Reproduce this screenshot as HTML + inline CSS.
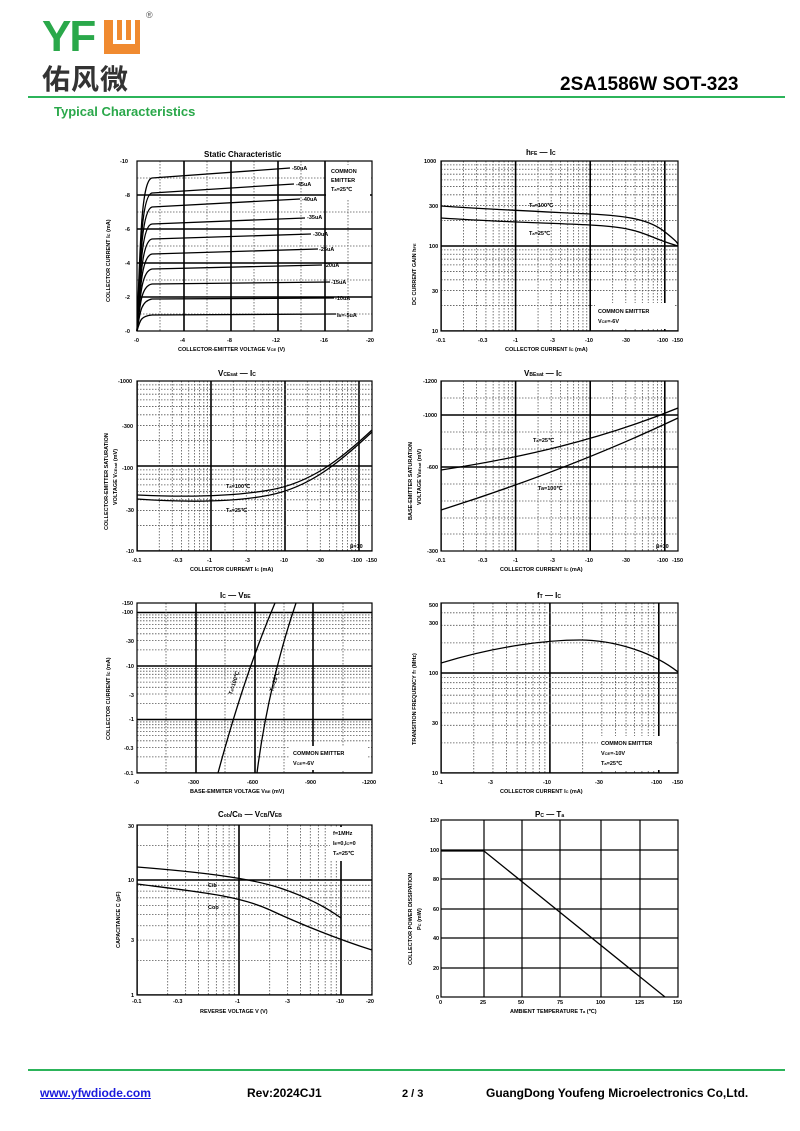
<!DOCTYPE html><html><head><meta charset="utf-8"><style>
body{margin:0;background:#fff;width:800px;height:1131px;position:relative;font-family:"Liberation Sans",Arial,sans-serif;overflow:hidden}
.a{position:absolute;white-space:nowrap}
</style></head><body>
<div class="a" style="left:42px;top:12px;font:bold 44px 'Liberation Sans';color:#2aa84a;letter-spacing:-2px">YF</div>
<div class="a" style="left:104px;top:20px;width:36px;height:34px;background:#f08a30"></div>
<div class="a" style="left:113px;top:20px;width:4px;height:24px;background:#fff"></div>
<div class="a" style="left:122px;top:20px;width:4px;height:24px;background:#fff"></div>
<div class="a" style="left:131px;top:20px;width:4px;height:24px;background:#fff"></div>
<div class="a" style="left:113px;top:40px;width:22px;height:4px;background:#fff"></div>
<div class="a" style="left:146px;top:10px;font-size:9px;color:#555">®</div>
<div class="a" style="left:42px;top:58px;font:bold 28px 'Noto Sans CJK SC',sans-serif;color:#333;letter-spacing:1px">佑风微</div>
<div class="a" style="left:560px;top:74px;font:bold 19px 'Liberation Sans';color:#000">2SA1586W SOT-323</div>
<div class="a" style="left:28px;top:96px;width:757px;height:2px;background:#2cb45a"></div>
<div class="a" style="left:54px;top:104px;font:bold 13px 'Liberation Sans';color:#2aa84a">Typical Characteristics</div>
<div class="a" style="left:28px;top:1069px;width:757px;height:2px;background:#2cb45a"></div>
<div class="a" style="left:40px;top:1086px;font:bold 12px 'Liberation Sans';color:#1a1adc;text-decoration:underline">www.yfwdiode.com</div>
<div class="a" style="left:247px;top:1086px;font:bold 12px 'Liberation Sans'">Rev:2024CJ1</div>
<div class="a" style="left:402px;top:1088px;font:bold 11px 'Liberation Sans'">2 / 3</div>
<div class="a" style="left:486px;top:1086px;font:bold 12px 'Liberation Sans'">GuangDong Youfeng Microelectronics Co,Ltd.</div>

<svg class="a" style="left:0;top:0" width="800" height="1131" font-family="Liberation Sans" font-weight="bold">
<defs>
<g id="vd"><g stroke="#555" stroke-width="0.8" stroke-dasharray="1.5,1.5" vector-effect="non-scaling-stroke">
<line x1=".301" y1="0" x2=".301" y2="1" vector-effect="non-scaling-stroke"/><line x1=".477" y1="0" x2=".477" y2="1" vector-effect="non-scaling-stroke"/><line x1=".602" y1="0" x2=".602" y2="1" vector-effect="non-scaling-stroke"/><line x1=".699" y1="0" x2=".699" y2="1" vector-effect="non-scaling-stroke"/><line x1=".778" y1="0" x2=".778" y2="1" vector-effect="non-scaling-stroke"/><line x1=".845" y1="0" x2=".845" y2="1" vector-effect="non-scaling-stroke"/><line x1=".903" y1="0" x2=".903" y2="1" vector-effect="non-scaling-stroke"/><line x1=".954" y1="0" x2=".954" y2="1" vector-effect="non-scaling-stroke"/></g>
<line x1="0" y1="0" x2="0" y2="1" stroke="#000" stroke-width="1.6" vector-effect="non-scaling-stroke"/></g>
<g id="hd"><g stroke="#555" stroke-width="0.8" stroke-dasharray="1.5,1.5">
<line y1=".699" x1="0" y2=".699" x2="1" vector-effect="non-scaling-stroke"/><line y1=".523" x1="0" y2=".523" x2="1" vector-effect="non-scaling-stroke"/><line y1=".398" x1="0" y2=".398" x2="1" vector-effect="non-scaling-stroke"/><line y1=".301" x1="0" y2=".301" x2="1" vector-effect="non-scaling-stroke"/><line y1=".222" x1="0" y2=".222" x2="1" vector-effect="non-scaling-stroke"/><line y1=".155" x1="0" y2=".155" x2="1" vector-effect="non-scaling-stroke"/><line y1=".097" x1="0" y2=".097" x2="1" vector-effect="non-scaling-stroke"/><line y1=".046" x1="0" y2=".046" x2="1" vector-effect="non-scaling-stroke"/></g>
<line x1="0" y1="1" x2="1" y2="1" stroke="#000" stroke-width="1.6" vector-effect="non-scaling-stroke"/></g>
<clipPath id="c2"><rect x="441" y="161" width="237" height="170"/></clipPath>
<clipPath id="c3"><rect x="137" y="381" width="235" height="170"/></clipPath>
<clipPath id="c4"><rect x="441" y="381" width="237" height="170"/></clipPath>
<clipPath id="c5"><rect x="137" y="603" width="235" height="170"/></clipPath>
<clipPath id="c6"><rect x="441" y="603" width="237" height="170"/></clipPath>
<clipPath id="c7"><rect x="137" y="825" width="235" height="170"/></clipPath>
</defs>

<!-- Chart 1 static -->
<g stroke="#555" stroke-width="0.8" stroke-dasharray="1.5,1.5">
<line x1="160" y1="161" x2="160" y2="331"/><line x1="207" y1="161" x2="207" y2="331"/><line x1="254" y1="161" x2="254" y2="331"/><line x1="301" y1="161" x2="301" y2="331"/><line x1="348" y1="161" x2="348" y2="331"/>
<line x1="137" y1="178" x2="372" y2="178"/><line x1="137" y1="212" x2="372" y2="212"/><line x1="137" y1="246" x2="372" y2="246"/><line x1="137" y1="280" x2="372" y2="280"/><line x1="137" y1="314" x2="372" y2="314"/></g>
<g stroke="#000" stroke-width="1.6">
<line x1="184" y1="161" x2="184" y2="331"/><line x1="231" y1="161" x2="231" y2="331"/><line x1="278" y1="161" x2="278" y2="331"/><line x1="325" y1="161" x2="325" y2="331"/>
<line x1="137" y1="195" x2="372" y2="195"/><line x1="137" y1="229" x2="372" y2="229"/><line x1="137" y1="263" x2="372" y2="263"/><line x1="137" y1="297" x2="372" y2="297"/></g>
<rect x="326" y="165" width="44" height="35" fill="#fff"/>
<g fill="none" stroke="#000" stroke-width="1.3">
<path d="M137,331C140,250 141,180 152,178L290,168"/><path d="M137,331C140,260 141,195 152,193L294,184"/><path d="M137,331C140,270 141,210 152,207L300,199"/><path d="M137,331C140,280 141,225 152,224L305,218"/><path d="M137,331C140,290 141,241 152,239L311,234"/><path d="M137,331C140,295 141,256 152,254L318,249"/><path d="M137,331C140,300 141,271 152,269L322,265"/><path d="M137,331C140,305 141,286 152,284L330,282"/><path d="M137,331C140,312 141,301 152,299L334,298"/><path d="M137,331C140,320 141,316 152,315L336,314"/></g>
<rect x="137" y="161" width="235" height="170" fill="none" stroke="#000" stroke-width="1.2"/>
<g font-size="5.5">
<text x="292" y="170">-50uA</text><text x="296" y="186">-45uA</text><text x="302" y="201">-40uA</text><text x="307" y="219">-35uA</text><text x="313" y="236">-30uA</text><text x="319" y="251">-25uA</text><text x="324" y="267">-20uA</text><text x="331" y="284">-15uA</text><text x="335" y="300">-10uA</text><text x="337" y="317">I<tspan font-size="4">B</tspan>=-5uA</text>
<text x="331" y="173">COMMON</text><text x="331" y="182">EMITTER</text><text x="331" y="191">T<tspan font-size="4">a</tspan>=25℃</text>
<text x="120" y="163">-10</text><text x="125" y="197">-8</text><text x="125" y="231">-6</text><text x="125" y="265">-4</text><text x="125" y="299">-2</text><text x="125" y="333">-0</text>
<text x="134" y="342">-0</text><text x="180" y="342">-4</text><text x="227" y="342">-8</text><text x="272" y="342">-12</text><text x="320" y="342">-16</text><text x="366" y="342">-20</text>
<text x="178" y="351">COLLECTOR-EMITTER VOLTAGE   V<tspan font-size="4">CE</tspan>  (V)</text>
<text transform="translate(110,302) rotate(-90)">COLLECTOR CURRENT   I<tspan font-size="4">C</tspan>   (mA)</text>
</g>
<text x="204" y="157" font-size="8">Static Characteristic</text>

<!-- Chart 2 hFE -->
<g clip-path="url(#c2)">
<use href="#vd" transform="translate(441,161) scale(74.6,170)"/><use href="#vd" transform="translate(515.6,161) scale(74.6,170)"/><use href="#vd" transform="translate(590.2,161) scale(74.6,170)"/><use href="#vd" transform="translate(664.8,161) scale(74.6,170)"/>
<use href="#hd" transform="translate(441,161) scale(237,85)"/><use href="#hd" transform="translate(441,246) scale(237,85)"/>
<rect x="595" y="303" width="80" height="26" fill="#fff"/>
<g fill="none" stroke="#000" stroke-width="1.3"><path d="M441,206C500,210 550,212 590,214S650,220 665,232 678,244 678,246"/><path d="M441,218C500,222 550,223 590,225S640,232 655,238 672,244 678,246"/></g>
</g>
<rect x="441" y="161" width="237" height="170" fill="none" stroke="#000" stroke-width="1.2"/>
<g font-size="5.5">
<text x="529" y="207">T<tspan font-size="4">a</tspan>=100℃</text><text x="529" y="235">T<tspan font-size="4">a</tspan>=25℃</text>
<text x="598" y="313">COMMON EMITTER</text><text x="598" y="323">V<tspan font-size="4">CE</tspan>=-6V</text>
<text x="424" y="163">1000</text><text x="429" y="208">300</text><text x="429" y="248">100</text><text x="432" y="293">30</text><text x="432" y="333">10</text>
<text x="436" y="342">-0.1</text><text x="478" y="342">-0.3</text><text x="513" y="342">-1</text><text x="550" y="342">-3</text><text x="585" y="342">-10</text><text x="622" y="342">-30</text><text x="657" y="342">-100</text><text x="672" y="342">-150</text>
<text x="505" y="351">COLLECTOR CURRENT   I<tspan font-size="4">C</tspan>   (mA)</text>
<text transform="translate(416,305) rotate(-90)">DC CURRENT GAIN   h<tspan font-size="4">FE</tspan></text>
</g>
<text x="526" y="155" font-size="8">h<tspan font-size="5">FE</tspan>  —   I<tspan font-size="5">C</tspan></text>

<!-- Chart 3 VCEsat -->
<g clip-path="url(#c3)">
<use href="#vd" transform="translate(137,381) scale(74,170)"/><use href="#vd" transform="translate(211,381) scale(74,170)"/><use href="#vd" transform="translate(285,381) scale(74,170)"/><use href="#vd" transform="translate(359,381) scale(74,170)"/>
<use href="#hd" transform="translate(137,381) scale(235,85)"/><use href="#hd" transform="translate(137,466) scale(235,85)"/>
<g fill="none" stroke="#000" stroke-width="1.3"><path d="M137,495C180,497 230,497 270,490S340,460 372,430"/><path d="M137,499C180,502 230,503 270,495S340,462 372,432"/></g>
</g>
<rect x="137" y="381" width="235" height="170" fill="none" stroke="#000" stroke-width="1.2"/>
<g font-size="5.5">
<text x="226" y="488">T<tspan font-size="4">a</tspan>=100℃</text><text x="226" y="512">T<tspan font-size="4">a</tspan>=25℃</text><text x="350" y="548">β=10</text>
<text x="118" y="383">-1000</text><text x="122" y="428">-300</text><text x="122" y="470">-100</text><text x="126" y="512">-30</text><text x="126" y="553">-10</text>
<text x="132" y="562">-0.1</text><text x="173" y="562">-0.3</text><text x="207" y="562">-1</text><text x="245" y="562">-3</text><text x="280" y="562">-10</text><text x="316" y="562">-30</text><text x="351" y="562">-100</text><text x="366" y="562">-150</text>
<text x="190" y="571">COLLECTOR CURREMT   I<tspan font-size="4">C</tspan>   (mA)</text>
<text transform="translate(108,530) rotate(-90)">COLLECTOR-EMITTER SATURATION</text>
<text transform="translate(117,505) rotate(-90)">VOLTAGE   V<tspan font-size="4">CEsat</tspan>   (mV)</text>
</g>
<text x="218" y="376" font-size="8">V<tspan font-size="5">CEsat</tspan>  —   I<tspan font-size="5">C</tspan></text>

<!-- Chart 4 VBEsat -->
<g clip-path="url(#c4)">
<use href="#vd" transform="translate(441,381) scale(74.6,170)"/><use href="#vd" transform="translate(515.6,381) scale(74.6,170)"/><use href="#vd" transform="translate(590.2,381) scale(74.6,170)"/><use href="#vd" transform="translate(664.8,381) scale(74.6,170)"/>
<g stroke="#555" stroke-width="0.8" stroke-dasharray="1.5,1.5"><line x1="441" y1="398" x2="678" y2="398"/><line x1="441" y1="432" x2="678" y2="432"/><line x1="441" y1="449" x2="678" y2="449"/><line x1="441" y1="484" x2="678" y2="484"/><line x1="441" y1="501" x2="678" y2="501"/><line x1="441" y1="518" x2="678" y2="518"/><line x1="441" y1="534" x2="678" y2="534"/></g>
<g stroke="#000" stroke-width="1.6"><line x1="441" y1="415" x2="678" y2="415"/><line x1="441" y1="467" x2="678" y2="467"/></g>
<g fill="none" stroke="#000" stroke-width="1.3"><path d="M441,470C520,458 600,440 678,408"/><path d="M441,510C520,485 600,455 678,418"/></g>
</g>
<rect x="441" y="381" width="237" height="170" fill="none" stroke="#000" stroke-width="1.2"/>
<g font-size="5.5">
<text x="533" y="442">T<tspan font-size="4">a</tspan>=25℃</text><text x="538" y="490">Ta=100℃</text><text x="656" y="548">β=10</text>
<text x="423" y="383">-1200</text><text x="423" y="417">-1000</text><text x="427" y="469">-600</text><text x="427" y="553">-300</text>
<text x="436" y="562">-0.1</text><text x="478" y="562">-0.3</text><text x="513" y="562">-1</text><text x="550" y="562">-3</text><text x="585" y="562">-10</text><text x="622" y="562">-30</text><text x="657" y="562">-100</text><text x="672" y="562">-150</text>
<text x="500" y="571">COLLECTOR CURRENT   I<tspan font-size="4">C</tspan>   (mA)</text>
<text transform="translate(412,520) rotate(-90)">BASE-EMITTER SATURATION</text>
<text transform="translate(421,505) rotate(-90)">VOLTAGE   V<tspan font-size="4">BEsat</tspan>  (mV)</text>
</g>
<text x="524" y="376" font-size="8">V<tspan font-size="5">BEsat</tspan>  —   I<tspan font-size="5">C</tspan></text>

<!-- Chart 5 IC-VBE -->
<g clip-path="url(#c5)">
<use href="#hd" transform="translate(137,559) scale(235,53.5)"/><use href="#hd" transform="translate(137,612.5) scale(235,53.5)"/><use href="#hd" transform="translate(137,666) scale(235,53.5)"/><use href="#hd" transform="translate(137,719.5) scale(235,53.5)"/>
<g stroke="#555" stroke-width="0.8" stroke-dasharray="1.5,1.5"><line x1="166" y1="603" x2="166" y2="773"/><line x1="225" y1="603" x2="225" y2="773"/><line x1="284" y1="603" x2="284" y2="773"/><line x1="343" y1="603" x2="343" y2="773"/></g>
<g stroke="#000" stroke-width="1.6"><line x1="196" y1="603" x2="196" y2="773"/><line x1="255" y1="603" x2="255" y2="773"/><line x1="313" y1="603" x2="313" y2="773"/></g>
<rect x="290" y="746" width="78" height="24" fill="#fff"/>
<g fill="none" stroke="#000" stroke-width="1.3"><path d="M218,773C235,710 255,650 275,603"/><path d="M257,773C265,710 280,650 296,603"/></g>
</g>
<rect x="137" y="603" width="235" height="170" fill="none" stroke="#000" stroke-width="1.2"/>
<g font-size="5.5">
<text transform="translate(232,695) rotate(-72)">T<tspan font-size="4">a</tspan>=100℃</text><text transform="translate(273,692) rotate(-72)">T<tspan font-size="4">a</tspan>=25℃</text>
<text x="293" y="755">COMMON EMITTER</text><text x="293" y="765">V<tspan font-size="4">CE</tspan>=-6V</text>
<text x="122" y="605">-150</text><text x="122" y="614">-100</text><text x="126" y="643">-30</text><text x="126" y="668">-10</text><text x="129" y="697">-3</text><text x="129" y="721">-1</text><text x="124" y="750">-0.3</text><text x="124" y="775">-0.1</text>
<text x="134" y="784">-0</text><text x="188" y="784">-300</text><text x="247" y="784">-600</text><text x="305" y="784">-900</text><text x="362" y="784">-1200</text>
<text x="190" y="793">BASE-EMMITER VOLTAGE   V<tspan font-size="4">BE</tspan>  (mV)</text>
<text transform="translate(110,740) rotate(-90)">COLLECTOR CURRENT   I<tspan font-size="4">C</tspan>   (mA)</text>
</g>
<text x="220" y="598" font-size="8">I<tspan font-size="5">C</tspan>  —   V<tspan font-size="5">BE</tspan></text>

<!-- Chart 6 fT -->
<g clip-path="url(#c6)">
<use href="#vd" transform="translate(441,603) scale(108.9,170)"/><use href="#vd" transform="translate(549.9,603) scale(108.9,170)"/><use href="#vd" transform="translate(658.8,603) scale(108.9,170)"/>
<use href="#hd" transform="translate(441,573) scale(237,100)"/><use href="#hd" transform="translate(441,673) scale(237,100)"/>
<rect x="598" y="736" width="78" height="34" fill="#fff"/>
<path d="M441,663C500,645 550,640 580,640S650,650 678,672" fill="none" stroke="#000" stroke-width="1.3"/>
</g>
<rect x="441" y="603" width="237" height="170" fill="none" stroke="#000" stroke-width="1.2"/>
<g font-size="5.5">
<text x="601" y="745">COMMON EMITTER</text><text x="601" y="755">V<tspan font-size="4">CE</tspan>=-10V</text><text x="601" y="765">T<tspan font-size="4">a</tspan>=25℃</text>
<text x="429" y="607">500</text><text x="429" y="625">300</text><text x="429" y="675">100</text><text x="432" y="725">30</text><text x="432" y="775">10</text>
<text x="438" y="784">-1</text><text x="488" y="784">-3</text><text x="543" y="784">-10</text><text x="595" y="784">-30</text><text x="651" y="784">-100</text><text x="672" y="784">-150</text>
<text x="500" y="793">COLLECTOR CURRENT   I<tspan font-size="4">C</tspan>   (mA)</text>
<text transform="translate(416,745) rotate(-90)">TRANSITION FREQUENCY   f<tspan font-size="4">T</tspan>   (MHz)</text>
</g>
<text x="537" y="598" font-size="8">f<tspan font-size="5">T</tspan>  —   I<tspan font-size="5">C</tspan></text>

<!-- Chart 7 Cap -->
<g clip-path="url(#c7)">
<use href="#vd" transform="translate(137,825) scale(102,170)"/><use href="#vd" transform="translate(239,825) scale(102,170)"/><use href="#vd" transform="translate(341,825) scale(102,170)"/>
<use href="#hd" transform="translate(137,765) scale(235,115)"/><use href="#hd" transform="translate(137,880) scale(235,115)"/>
<rect x="330" y="827" width="40" height="34" fill="#fff"/>
<g fill="none" stroke="#000" stroke-width="1.3"><path d="M137,867C200,872 250,878 280,888S330,910 341,918"/><path d="M137,884C200,892 240,896 270,910S340,940 372,950"/></g>
</g>
<rect x="137" y="825" width="235" height="170" fill="none" stroke="#000" stroke-width="1.2"/>
<g font-size="5.5">
<text x="208" y="887">Cib</text><text x="208" y="909">Cob</text>
<text x="333" y="835">f=1MHz</text><text x="333" y="845">I<tspan font-size="4">E</tspan>=0,I<tspan font-size="4">C</tspan>=0</text><text x="333" y="855">T<tspan font-size="4">a</tspan>=25℃</text>
<text x="128" y="828">30</text><text x="128" y="882">10</text><text x="131" y="942">3</text><text x="131" y="997">1</text>
<text x="132" y="1003">-0.1</text><text x="173" y="1003">-0.3</text><text x="235" y="1003">-1</text><text x="285" y="1003">-3</text><text x="336" y="1003">-10</text><text x="366" y="1003">-20</text>
<text x="200" y="1013">REVERSE VOLTAGE   V   (V)</text>
<text transform="translate(120,948) rotate(-90)">CAPACITANCE   C   (pF)</text>
</g>
<text x="218" y="817" font-size="8">C<tspan font-size="5">ob</tspan>/C<tspan font-size="5">ib</tspan>  —   V<tspan font-size="5">CB</tspan>/V<tspan font-size="5">EB</tspan></text>

<!-- Chart 8 Pc-Ta -->
<g stroke="#000" stroke-width="1.2"><line x1="484" y1="820" x2="484" y2="997"/><line x1="522" y1="820" x2="522" y2="997"/><line x1="560" y1="820" x2="560" y2="997"/><line x1="601" y1="820" x2="601" y2="997"/><line x1="640" y1="820" x2="640" y2="997"/>
<line x1="441" y1="850" x2="678" y2="850"/><line x1="441" y1="879" x2="678" y2="879"/><line x1="441" y1="909" x2="678" y2="909"/><line x1="441" y1="938" x2="678" y2="938"/><line x1="441" y1="968" x2="678" y2="968"/></g>
<path d="M441,851L484,851L665,997" fill="none" stroke="#000" stroke-width="1.3"/>
<rect x="441" y="820" width="237" height="177" fill="none" stroke="#000" stroke-width="1.2"/>
<g font-size="5.5">
<text x="430" y="822">120</text><text x="430" y="852">100</text><text x="433" y="881">80</text><text x="433" y="911">60</text><text x="433" y="940">40</text><text x="433" y="970">20</text><text x="436" y="999">0</text>
<text x="439" y="1004">0</text><text x="480" y="1004">25</text><text x="518" y="1004">50</text><text x="557" y="1004">75</text><text x="596" y="1004">100</text><text x="635" y="1004">125</text><text x="673" y="1004">150</text>
<text x="510" y="1013">AMBIENT TEMPERATURE   T<tspan font-size="4">a</tspan>   (℃)</text>
<text transform="translate(412,965) rotate(-90)">COLLECTOR POWER DISSIPATION</text>
<text transform="translate(421,930) rotate(-90)">P<tspan font-size="4">C</tspan>   (mW)</text>
</g>
<text x="535" y="817" font-size="8">P<tspan font-size="5">C</tspan>  —   T<tspan font-size="5">a</tspan></text>
</svg>
</body></html>
